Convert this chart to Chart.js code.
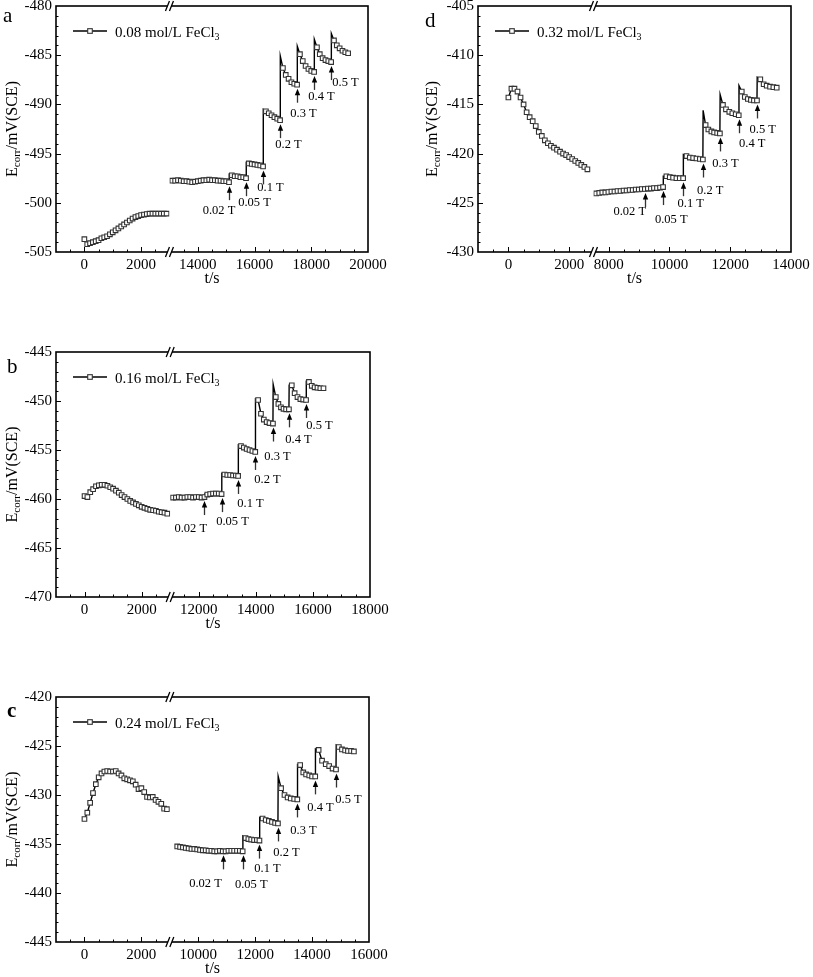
<!DOCTYPE html>
<html>
<head>
<meta charset="utf-8">
<script src="https://cdn.jsdelivr.net/npm/chart.js@4.4.1/dist/chart.umd.min.js"></script>
<style>
  body { margin: 0; background: #fff; }
  canvas { position: absolute; }
</style>
</head>
<body>
<canvas id="cA" width="400" height="290" style="left:0;top:0"></canvas>
<canvas id="cD" width="413" height="290" style="left:400px;top:0"></canvas>
<canvas id="cB" width="400" height="320" style="left:0;top:320px"></canvas>
<canvas id="cC" width="400" height="327" style="left:0;top:650px"></canvas>
<script>
const FONT = "'Liberation Serif', 'Times New Roman', serif";

// ---- shared
const stepLabels = ['0.02 T', '0.05 T', '0.1 T', '0.2 T', '0.3 T', '0.4 T', '0.5 T'];
const leftTicks = [0, 2000];
const leftTimes = [0,100,200,300,400,500,600,700,800,900,1000,1100,1200,1300,1400,1500,1600,1700,1800,1900,2000,2100,2200,2300,2400,2500,2600,2700,2800,2900];
const dLeftTimes = [0,100,200,300,400,500,600,700,800,900,1000,1100,1200,1300,1400,1500,1600,1700,1800,1900,2000,2100,2200,2300,2400,2500,2600];

// ---- a: 0.08 mol/L
const aTicks = [14000, 16000, 18000, 20000];
const aLeftE = [-503.7,-504.2,-504.1,-504.0,-503.9,-503.8,-503.6,-503.5,-503.4,-503.2,-503.0,-502.8,-502.6,-502.4,-502.2,-502.0,-501.8,-501.6,-501.45,-501.35,-501.25,-501.2,-501.15,-501.1,-501.1,-501.1,-501.1,-501.1,-501.1,-501.1];
const aRightT = [13100,13200,13300,13400,13500,13600,13700,13800,13900,14000,
  14100,14200,14300,14400,14500,14600,14700,14800,14900,15000,
  15100,15200,15300,15400,15500,15600,15700,15800,15900,16000,
  16100,16200,16300,16400,16500,16600,16700,16800,16900,17000,
  17100,17200,17300,17400,17500,17600,17700,17800,17900,18000,
  18100,18200,18300,18400,18500,18600,18700,18800,18900,19000,
  19100,19200,19300];
const aRightE = [-497.75,-497.75,-497.7,-497.75,-497.8,-497.8,-497.85,-497.9,-497.85,-497.8,
  -497.75,-497.7,-497.7,-497.65,-497.7,-497.7,-497.75,-497.75,-497.8,-497.8,
  -497.9,-497.2,-497.3,-497.3,-497.4,-497.4,-497.5,-496.0,-496.05,-496.1,
  -496.15,-496.2,-496.3,-490.7,-490.9,-491.1,-491.3,-491.45,-491.6,-486.3,
  -487.0,-487.4,-487.75,-487.9,-488.0,-484.9,-485.6,-486.1,-486.4,-486.6,
  -486.7,-484.2,-484.9,-485.3,-485.5,-485.6,-485.7,-483.5,-484.0,-484.3,
  -484.55,-484.7,-484.8];
const aStepT = [15100, 15700, 16300, 16900, 17500, 18100, 18700];
const aSpikeE = [-497.1, -495.9, -490.5, -485.1, -484.1, -483.4, -482.8];

// ---- b: 0.16 mol/L
const bTicks = [12000, 14000, 16000, 18000];
const bLeftE = [-459.7,-459.8,-459.3,-459.0,-458.7,-458.6,-458.55,-458.55,-458.65,-458.8,-458.95,-459.15,-459.35,-459.6,-459.8,-460.0,-460.2,-460.35,-460.5,-460.65,-460.8,-460.9,-461.0,-461.1,-461.15,-461.2,-461.3,-461.35,-461.4,-461.5];
const bRightT = [11100,11200,11300,11400,11500,11600,11700,11800,11900,12000,12100,12200,
  12300,12400,12500,12600,12700,12800,
  12900,13000,13100,13200,13300,13380,
  13480,13580,13680,13780,13880,13980,
  14080,14180,14280,14380,14480,14600,
  14700,14790,14880,14970,15060,15160,
  15260,15360,15460,15560,15660,15760,
  15860,15960,16060,16160,16260,16370];
const bRightE = [-459.85,-459.85,-459.8,-459.85,-459.85,-459.8,-459.8,-459.85,-459.8,-459.8,-459.85,-459.8,
  -459.55,-459.5,-459.45,-459.45,-459.45,-459.5,
  -457.5,-457.55,-457.55,-457.6,-457.6,-457.65,
  -454.6,-454.75,-454.9,-455.0,-455.1,-455.2,
  -449.9,-451.3,-451.9,-452.15,-452.25,-452.3,
  -449.6,-450.3,-450.65,-450.8,-450.85,-450.85,
  -448.4,-449.2,-449.6,-449.8,-449.85,-449.9,
  -448.05,-448.45,-448.6,-448.65,-448.7,-448.7];
const bStepT = [12200, 12800, 13380, 13980, 14600, 15160, 15760];
const bSpikeE = [-459.5, -457.4, -454.5, -449.8, -448.3, -448.4, -448.0];

// ---- c: 0.24 mol/L
const cTicks = [10000, 12000, 14000, 16000];
const cLeftE = [-432.45,-431.8,-430.8,-429.8,-428.9,-428.2,-427.8,-427.6,-427.55,-427.6,-427.6,-427.55,-427.8,-428.0,-428.3,-428.4,-428.5,-428.6,-428.95,-429.4,-429.3,-429.7,-430.2,-430.25,-430.2,-430.5,-430.7,-430.9,-431.4,-431.45];
const cRightT = [9260,9360,9460,9560,9660,9760,9860,9960,10060,10160,10260,10360,10460,10560,10660,10760,10860,10960,11060,11160,11260,11360,11460,11560,
  11660,11760,11860,11960,12060,12150,
  12260,12370,12480,12590,12700,12800,
  12910,13030,13140,13250,13370,13480,
  13580,13690,13790,13900,14000,14110,
  14230,14350,14480,14600,14720,14840,
  14940,15050,15160,15260,15370,15470];
const cRightE = [-435.25,-435.3,-435.35,-435.4,-435.45,-435.5,-435.5,-435.55,-435.6,-435.65,-435.65,-435.7,-435.7,-435.75,-435.75,-435.7,-435.75,-435.75,-435.7,-435.7,-435.7,-435.7,-435.7,-435.75,
  -434.4,-434.5,-434.55,-434.6,-434.6,-434.65,
  -432.4,-432.55,-432.65,-432.75,-432.85,-432.9,
  -429.3,-430.0,-430.25,-430.35,-430.4,-430.45,
  -426.95,-427.7,-427.9,-428.0,-428.1,-428.1,
  -425.4,-426.5,-426.85,-427.05,-427.3,-427.4,
  -425.1,-425.35,-425.45,-425.5,-425.5,-425.55];
const cStepT = [10860, 11560, 12150, 12800, 13480, 14110, 14840];
const cSpikeE = [null, -434.2, -432.3, -428.1, -426.9, -425.3, -424.9];

// ---- d: 0.32 mol/L
const dTicks = [8000, 10000, 12000, 14000];
const dLeftE = [-414.3,-413.4,-413.4,-413.7,-414.3,-415.0,-415.8,-416.3,-416.7,-417.2,-417.8,-418.2,-418.65,-418.95,-419.2,-419.4,-419.6,-419.8,-420.0,-420.15,-420.35,-420.55,-420.75,-420.95,-421.15,-421.35,-421.6];
const dRightT = [7590,7690,7790,7890,7990,8090,8190,8290,8390,8490,8590,8690,8790,8890,8990,9090,9190,9290,9390,9490,9590,9690,9790,
  9900,10010,10120,10230,10340,10450,
  10560,10670,10780,10890,11000,11100,
  11190,11280,11380,11470,11570,11660,
  11760,11860,11970,12070,12180,12280,
  12380,12480,12580,12680,12780,12880,
  12990,13100,13200,13310,13420,13530];
const dRightE = [-424.05,-424.0,-423.95,-423.95,-423.9,-423.85,-423.85,-423.8,-423.8,-423.75,-423.75,-423.7,-423.7,-423.65,-423.65,-423.6,-423.6,-423.55,-423.55,-423.5,-423.5,-423.45,-423.4,
  -422.3,-422.4,-422.45,-422.5,-422.5,-422.5,
  -420.25,-420.4,-420.45,-420.5,-420.55,-420.6,
  -417.1,-417.55,-417.75,-417.85,-417.9,-417.95,
  -415.05,-415.5,-415.75,-415.9,-416.0,-416.1,
  -413.7,-414.25,-414.45,-414.55,-414.6,-414.6,
  -412.45,-412.95,-413.1,-413.2,-413.25,-413.3];
const dStepT = [9190, 9790, 10450, 11100, 11660, 12280, 12880];
const dSpikeE = [null, -422.3, -420.1, -415.6, -414.0, -413.1, -412.25];

// ---- layout of each panel (pixels), kept apart from the data
const panels = [
  { id: 'cA', letter: 'a', bold: false, letterX: 3, letterY: 21.7, legend: '0.08 mol/L FeCl',
    y: [-505, -480], x1: [-1000, 3000], x2: [13000, 20000], x2Ticks: aTicks,
    leftT: leftTimes, leftE: aLeftE, rightT: aRightT, rightE: aRightE, stepT: aStepT, spikeE: aSpikeE,
    dx: [-10.5, 8, 7, 8, 6, 7, 14], dy: [4, 0, -4, 0, 4, 0, -4],
    yWidth: 56, padRight: 32, padTop: 6, xHeight: 38, titleX: 11 },
  { id: 'cD', letter: 'd', bold: false, letterX: 25, letterY: 26.7, legend: '0.32 mol/L FeCl',
    y: [-430, -405], x1: [-1000, 2800], x2: [7500, 14000], x2Ticks: dTicks,
    leftT: dLeftTimes, leftE: dLeftE, rightT: dRightT, rightE: dRightE, stepT: dStepT, spikeE: dSpikeE,
    dx: [-15.7, 7.7, 7.3, 6.7, 5, 12.7, 5.3], dy: [-2, 8, 1, 6, 5, 3, 4],
    yWidth: 78, padRight: 22, padTop: 6, xHeight: 38, titleX: 31 },
  { id: 'cB', letter: 'b', bold: false, letterX: 7, letterY: 52.7, legend: '0.16 mol/L FeCl',
    y: [-470, -445], x1: [-1000, 3000], x2: [11000, 18000], x2Ticks: bTicks,
    leftT: leftTimes, leftE: bLeftE, rightT: bRightT, rightE: bRightE, stepT: bStepT, spikeE: bSpikeE,
    dx: [-13.7, 10, 12, 12, 4, 9, 13], dy: [7, 3, 3, 3, 8, 5, 1],
    yWidth: 56, padRight: 30, padTop: 32, xHeight: 43, titleX: 11 },
  { id: 'cC', letter: 'c', bold: true, letterX: 7, letterY: 66.7, legend: '0.24 mol/L FeCl',
    y: [-445, -420], x1: [-1000, 3000], x2: [9000, 16000], x2Ticks: cTicks,
    leftT: leftTimes, leftE: cLeftE, rightT: cRightT, rightE: cRightE, stepT: cStepT, spikeE: cSpikeE,
    dx: [-18, 7.7, 8, 8, 6, 5, 12], dy: [7, 8, 3, 4, 6, 6, 5],
    yWidth: 56, padRight: 31, padTop: 47, xHeight: 35, titleX: 11 }
];

Chart.defaults.font.family = FONT;
Chart.defaults.font.size = 15;
Chart.defaults.color = '#000';

function rightPoints(p) {
  const pts = p.rightT.map((t, i) => ({ x: t, y: p.rightE[i] }));
  p.stepT.forEach((t, i) => {
    if (p.spikeE[i] !== null) pts.push({ x: t + 8, y: p.spikeE[i], spike: true });
  });
  return pts.sort((u, v) => u.x - v.x);
}

function axisX(range, ticks, h) {
  return {
    type: 'linear', position: 'bottom', stack: 'time', stackWeight: range[1] - range[0],
    min: range[0], max: range[1], offset: false,
    grid: { display: false, drawTicks: false }, border: { display: false },
    ticks: { padding: 4, autoSkip: false, maxRotation: 0, callback: v => String(v) },
    afterBuildTicks: s => { s.ticks = ticks.map(v => ({ value: v })); },
    afterFit: s => { s.height = h; s.paddingLeft = 0; s.paddingRight = 0; }
  };
}

function markerAt(p, t) {
  let best = 0;
  p.rightT.forEach((v, i) => { if (Math.abs(v - t) < Math.abs(p.rightT[best] - t)) best = i; });
  return p.rightE[best];
}

function drawSquare(ctx, x, y) {
  ctx.fillStyle = '#fff';
  ctx.strokeStyle = '#333';
  ctx.lineWidth = 1.1;
  ctx.fillRect(x - 2.3, y - 2.3, 4.6, 4.6);
  ctx.strokeRect(x - 2.3, y - 2.3, 4.6, 4.6);
}

function makeDecor(p) {
  return {
    id: 'decor',
    afterDraw(chart) {
      const { ctx, chartArea: a, scales } = chart;
      const { x1, x2, y } = scales;
      ctx.save();
      ctx.strokeStyle = '#000';
      ctx.fillStyle = '#000';

      // frame
      ctx.lineWidth = 1.6;
      ctx.strokeRect(a.left, a.top, a.width, a.height);

      // inward ticks
      ctx.lineWidth = 1;
      ctx.beginPath();
      for (let v = y.min + 1; v < y.max; v += 1) {
        const py = Math.round(y.getPixelForValue(v)) + 0.5;
        const len = (v % 5 === 0) ? 5 : 2.5;
        ctx.moveTo(a.left, py);
        ctx.lineTo(a.left + len, py);
      }
      [x1, x2].forEach(s => {
        for (let v = Math.ceil(s.min / 500) * 500; v <= s.max; v += 500) {
          const px = Math.round(s.getPixelForValue(v)) + 0.5;
          if (px < a.left + 2 || px > a.right - 2 || Math.abs(px - x1.right) < 6) continue;
          const len = (v % 2000 === 0) ? 5 : 2.5;
          ctx.moveTo(px, a.bottom);
          ctx.lineTo(px, a.bottom - len);
        }
      });
      ctx.stroke();

      // axis break marks
      const bx = x1.right;
      ctx.lineWidth = 1.3;
      [a.top, a.bottom].forEach(by => {
        ctx.fillStyle = '#fff';
        ctx.beginPath();
        ctx.moveTo(bx - 4, by + 5); ctx.lineTo(bx, by - 5);
        ctx.lineTo(bx + 4, by - 5); ctx.lineTo(bx, by + 5);
        ctx.closePath();
        ctx.fill();
        ctx.beginPath();
        ctx.moveTo(bx - 4, by + 5); ctx.lineTo(bx, by - 5);
        ctx.moveTo(bx, by + 5); ctx.lineTo(bx + 4, by - 5);
        ctx.stroke();
      });

      // legend
      const lx = a.left + 17, ly = a.top + 25;
      ctx.strokeStyle = '#000';
      ctx.lineWidth = 1.4;
      ctx.beginPath();
      ctx.moveTo(lx, ly); ctx.lineTo(lx + 34, ly);
      ctx.stroke();
      drawSquare(ctx, lx + 17, ly);
      ctx.fillStyle = '#000';
      ctx.textAlign = 'left';
      ctx.textBaseline = 'alphabetic';
      ctx.font = '15px ' + FONT;
      ctx.fillText(p.legend, lx + 42, ly + 5.5);
      const lw = ctx.measureText(p.legend).width;
      ctx.font = '10px ' + FONT;
      ctx.fillText('3', lx + 42 + lw, ly + 9);

      // panel letter
      ctx.font = (p.bold ? 'bold ' : '') + '21px ' + FONT;
      ctx.fillText(p.letter, p.letterX, p.letterY);

      // y title with subscript, rotated
      const cy = (a.top + a.bottom) / 2;
      ctx.save();
      ctx.translate(p.titleX, cy);
      ctx.rotate(-Math.PI / 2);
      ctx.font = '16px ' + FONT;
      const w1 = ctx.measureText('E').width;
      const w3 = ctx.measureText('/mV(SCE)').width;
      ctx.font = '11px ' + FONT;
      const w2 = ctx.measureText('corr').width;
      const tx = -(w1 + w2 + w3) / 2;
      ctx.font = '16px ' + FONT;
      ctx.fillText('E', tx, 5.5);
      ctx.font = '11px ' + FONT;
      ctx.fillText('corr', tx + w1, 9);
      ctx.font = '16px ' + FONT;
      ctx.fillText('/mV(SCE)', tx + w1 + w2, 5.5);
      ctx.restore();

      // x title
      ctx.textAlign = 'center';
      ctx.font = '16px ' + FONT;
      ctx.fillText('t/s', (a.left + a.right) / 2, a.bottom + 31);

      // arrows marking each field step
      ctx.font = '12.5px ' + FONT;
      ctx.textBaseline = 'middle';
      p.stepT.forEach((t, i) => {
        const px = Math.round(x2.getPixelForValue(t)) + 0.5;
        const tip = y.getPixelForValue(markerAt(p, t)) + 4;
        const tail = tip + 14;
        ctx.lineWidth = 1.3;
        ctx.beginPath();
        ctx.moveTo(px, tail); ctx.lineTo(px, tip + 5);
        ctx.stroke();
        ctx.beginPath();
        ctx.moveTo(px, tip); ctx.lineTo(px - 2.7, tip + 6.5); ctx.lineTo(px + 2.7, tip + 6.5);
        ctx.closePath();
        ctx.fill();
        ctx.fillText(stepLabels[i], px + p.dx[i], tail + 7 + p.dy[i]);
      });
      ctx.restore();
    }
  };
}

const markerStyle = {
  borderColor: '#000',
  borderWidth: 1.4,
  pointStyle: 'rect',
  pointRadius: ctx => (ctx.raw && ctx.raw.spike) ? 0 : 3.25,
  pointBackgroundColor: '#fff',
  pointBorderColor: '#333',
  pointBorderWidth: 1.1,
  tension: 0,
  fill: false
};

panels.forEach(p => {
  new Chart(document.getElementById(p.id), {
    type: 'line',
    data: {
      datasets: [
        Object.assign({ label: p.legend, xAxisID: 'x1', yAxisID: 'y',
          data: p.leftT.map((t, i) => ({ x: t, y: p.leftE[i] })) }, markerStyle),
        Object.assign({ label: p.legend, xAxisID: 'x2', yAxisID: 'y',
          data: rightPoints(p) }, markerStyle)
      ]
    },
    options: {
      responsive: false,
      animation: false,
      events: [],
      layout: { padding: { left: 0, right: p.padRight, top: p.padTop, bottom: 0 } },
      plugins: { legend: { display: false }, tooltip: { enabled: false } },
      scales: {
        x1: axisX(p.x1, leftTicks, p.xHeight),
        x2: axisX(p.x2, p.x2Ticks, p.xHeight),
        y: {
          type: 'linear', position: 'left', min: p.y[0], max: p.y[1],
          grid: { display: false, drawTicks: false }, border: { display: false },
          ticks: { stepSize: 5, padding: 4, callback: v => String(v) },
          afterFit: s => { s.width = p.yWidth; s.paddingTop = 0; s.paddingBottom = 0; }
        }
      }
    },
    plugins: [makeDecor(p)]
  });
});
</script>
</body>
</html>
